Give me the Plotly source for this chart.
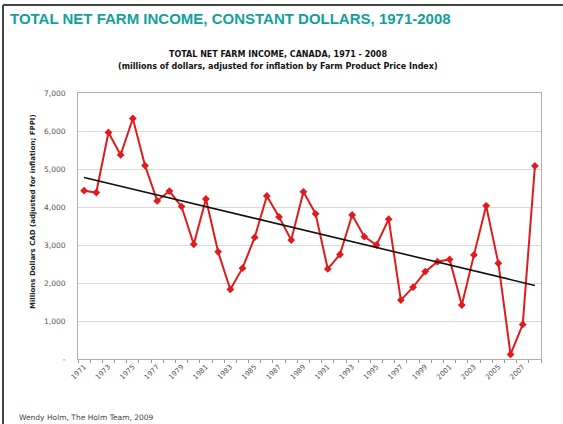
import numpy as np
import plotly.graph_objects as go

W, H = 563, 424

years = list(range(1971, 2009))
income = [4430, 4380, 5960, 5370, 6330, 5090, 4160, 4420, 4010, 3020,
          4210, 2820, 1830, 2390, 3200, 4290, 3740, 3130, 4400, 3820,
          2370, 2750, 3790, 3220, 3000, 3680, 1550, 1890, 2300, 2560,
          2620, 1420, 2740, 4030, 2520, 120, 910, 5080]
x_tick_years = list(range(1971, 2008, 2))
y_tick_vals = [0, 1000, 2000, 3000, 4000, 5000, 6000, 7000]
y_tick_text = ["-", "1,000", "2,000", "3,000", "4,000", "5,000", "6,000", "7,000"]

main_title = "TOTAL NET FARM INCOME, CONSTANT DOLLARS, 1971-2008"
chart_title1 = "TOTAL NET FARM INCOME, CANADA, 1971 - 2008"
chart_title2 = "(millions of dollars, adjusted for inflation by Farm Product Price Index)"
y_title = "Millions Dollars CAD (adjusted for inflation; FPPI)"
source = "Wendy Holm, The Holm Team, 2009"

# linear trend computed from the data
coef = np.polyfit(years, income, 1)
trend = [coef[0] * y + coef[1] for y in years]


def px_x(p):
    return p / W


def px_y(p):
    return 1 - p / H


fig = go.Figure()
fig.add_trace(go.Scatter(
    x=years, y=income, mode="lines+markers",
    line=dict(color="#e01b1b", width=2),
    marker=dict(symbol="diamond", size=6, color="#e01b1b"),
    showlegend=False,
))
fig.add_trace(go.Scatter(
    x=years, y=trend, mode="lines",
    line=dict(color="#111111", width=1.6),
    showlegend=False,
))

tick_font = dict(family="DejaVu Sans", size=7, color="#555555")

fig.update_layout(
    width=W, height=H,
    margin=dict(l=0, r=0, t=0, b=0, autoexpand=False),
    paper_bgcolor="white",
    plot_bgcolor="white",
    xaxis=dict(
        domain=[px_x(78), px_x(541)],
        range=[1970.5, 2008.5],
        automargin=False,
        tickvals=x_tick_years,
        ticktext=[str(y) for y in x_tick_years],
        tickangle=-45,
        tickfont=tick_font,
        ticks="",
        minor=dict(ticks="outside", ticklen=3, dtick=1, tick0=1970.5,
                   tickcolor="#999999", showgrid=False),
        showgrid=False,
        showline=True, linecolor="#b0b0b0", linewidth=1, mirror=True,
        zeroline=False,
        fixedrange=True,
    ),
    yaxis=dict(
        domain=[px_y(359), px_y(93)],
        range=[0, 7000],
        automargin=False,
        tickvals=y_tick_vals,
        ticktext=y_tick_text,
        tickfont=dict(family="DejaVu Sans", size=7.5, color="#555555"),
        ticks="",
        ticklabelstandoff=10,
        showgrid=True, gridcolor="#d9d9d9", gridwidth=1,
        showline=True, linecolor="#b0b0b0", linewidth=1, mirror=True,
        zeroline=False,
        fixedrange=True,
    ),
    annotations=[
        dict(text="<b>" + main_title + "</b>", x=px_x(8), y=px_y(18),
             xref="paper", yref="paper", xanchor="left", yanchor="middle",
             showarrow=False,
             font=dict(family="Liberation Sans", size=15, color="#14a09a")),
        dict(text="<b>" + chart_title1 + "</b>", x=px_x(278), y=px_y(54),
             xref="paper", yref="paper", xanchor="center", yanchor="middle",
             showarrow=False,
             font=dict(family="DejaVu Sans", size=8, color="#111111")),
        dict(text="<b>" + chart_title2 + "</b>", x=px_x(278), y=px_y(67),
             xref="paper", yref="paper", xanchor="center", yanchor="middle",
             showarrow=False,
             font=dict(family="DejaVu Sans", size=8, color="#111111")),
        dict(text="<b>" + y_title + "</b>", x=px_x(33), y=px_y(212),
             xref="paper", yref="paper", xanchor="center", yanchor="middle",
             textangle=-90, showarrow=False,
             font=dict(family="DejaVu Sans", size=7, color="#222222")),
        dict(text=source, x=px_x(17), y=px_y(417),
             xref="paper", yref="paper", xanchor="left", yanchor="middle",
             showarrow=False,
             font=dict(family="DejaVu Sans", size=7.5, color="#444444")),
    ],
    shapes=[
        dict(type="line", xref="paper", yref="paper",
             x0=px_x(3), x1=1, y0=px_y(5), y1=px_y(5),
             line=dict(color="#444444", width=2)),
        dict(type="line", xref="paper", yref="paper",
             x0=px_x(3), x1=px_x(3), y0=px_y(5), y1=0,
             line=dict(color="#444444", width=2)),
    ],
)

fig.write_html(
    "out.html",
    config={"displayModeBar": False},
    post_script="document.body.style.margin='0';document.body.style.overflow='hidden';",
)
